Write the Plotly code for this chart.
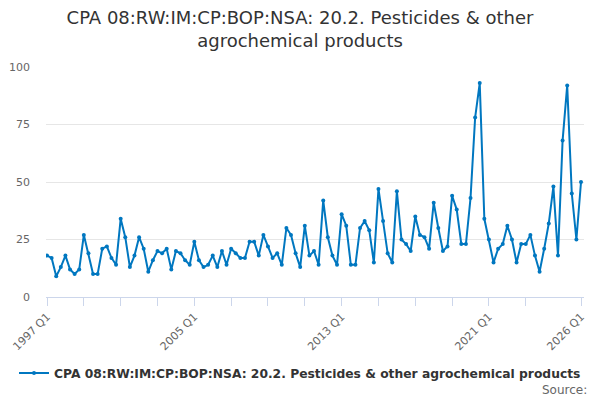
import plotly.graph_objects as go

# quarterly values, 1997 Q1 .. 2026 Q1
values = [
    18, 17, 9, 13,
    18, 12, 10, 12,
    27, 19, 10, 10,
    21, 22, 17, 14,
    34, 26, 13, 18,
    26, 21, 11, 16,
    20, 19, 21, 12,
    20, 19, 16, 14,
    24, 16, 13, 14,
    18, 13, 20, 14,
    21, 19, 17, 17,
    24, 24, 18, 27,
    22, 17, 19, 14,
    30, 27, 19, 13,
    31, 18, 20, 14,
    42, 26, 18, 14,
    36, 31, 14, 14,
    30, 33, 29, 15,
    47, 33, 19, 15,
    46, 25, 23, 20,
    35, 27, 26, 21,
    41, 30, 20, 22,
    44, 38, 23, 23,
    43, 78, 93, 34,
    25, 15, 21, 23,
    31, 25, 15, 23,
    23, 27, 18, 11,
    21, 32, 48, 18,
    68, 92, 45, 25,
    50,
]
quarters = ["%d Q%d" % (1997 + i // 4, i % 4 + 1) for i in range(len(values))]
labelled = ["1997 Q1", "2005 Q1", "2013 Q1", "2021 Q1", "2026 Q1"]

name = "CPA 08:RW:IM:CP:BOP:NSA: 20.2. Pesticides & other agrochemical products"
idx = list(range(len(values)))

tick_idx = list(range(0, 105, 8)) + [len(values) - 1]
tick_txt = [quarters[i] if quarters[i] in labelled else "" for i in tick_idx]

fig = go.Figure(go.Scatter(
    x=idx,
    y=values,
    mode="lines+markers",
    name=name,
    line={"width": 2, "color": "rgb(0,119,192)"},
    marker={"size": 4, "color": "rgb(0,119,192)"},
    customdata=quarters,
    hovertemplate="%{customdata}: %{y}<extra></extra>",
))

fig.update_layout(
    width=600, height=400,
    margin=dict(l=46, r=16, t=67, b=103, autoexpand=False),
    paper_bgcolor="white", plot_bgcolor="white",
    font=dict(family="DejaVu Sans", color="#666666", size=11),
    title=dict(
        text="CPA 08:RW:IM:CP:BOP:NSA: 20.2. Pesticides & other<br>agrochemical products",
        x=0.5, xanchor="center", y=0.94, yanchor="top",
        font=dict(size=18, color="#333333"),
    ),
    showlegend=True,
    legend=dict(
        orientation="h", xref="container", x=0.5, xanchor="center",
        y=-0.33, yanchor="middle",
        font=dict(size=12.3, color="#333333", weight="bold"),
    ),
)
fig.update_xaxes(
    range=[-0.22, len(values) - 0.35], automargin=False,
    tickvals=tick_idx, ticktext=tick_txt, tickangle=-45,
    ticks="outside", ticklen=8, tickcolor="#ccd6eb",
    showline=True, linecolor="#ccd6eb", linewidth=1,
    showgrid=False, zeroline=False,
)
fig.update_yaxes(
    range=[0, 100], tickvals=[0, 25, 50, 75, 100], automargin=False,
    showgrid=True, gridcolor="#e6e6e6", zeroline=False,
    ticklabelstandoff=15,
)
fig.add_annotation(
    text="Source:", xref="paper", yref="paper", x=1.01, y=-0.405,
    xanchor="right", yanchor="middle", showarrow=False,
    font=dict(size=12, color="#666666"),
)

# drop the browser's default body margin so the figure sits at the page corner
fig.write_html("out.html", config={"displayModeBar": False},
               post_script="document.body.style.margin='0';")
